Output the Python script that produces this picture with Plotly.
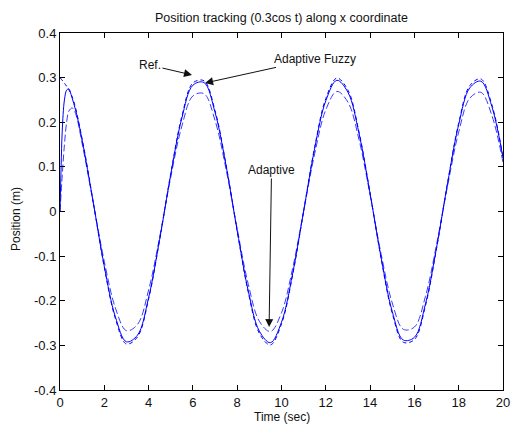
import plotly.graph_objects as go

# Reference signal 0.3cos t
t_ref = [0, 0.5, 1.0, 1.5, 2.0, 2.5, 3.0, 3.5, 4.0, 4.5, 5.0, 5.5, 6.0, 6.5, 7.0, 7.5,
         8.0, 8.5, 9.0, 9.5, 10.0, 10.5, 11.0, 11.5, 12.0, 12.5, 13.0, 13.5, 14.0, 14.5,
         15.0, 15.5, 16.0, 16.5, 17.0, 17.5, 18.0, 18.5, 19.0, 19.5, 20.0]
y_ref = [0.300, 0.263, 0.162, 0.021, -0.125, -0.240, -0.297, -0.281, -0.196, -0.063,
         0.085, 0.213, 0.288, 0.293, 0.226, 0.104, -0.044, -0.181, -0.273, -0.299,
         -0.252, -0.143, 0.001, 0.145, 0.253, 0.299, 0.272, 0.178, 0.041, -0.106,
         -0.228, -0.293, -0.287, -0.211, -0.083, 0.065, 0.198, 0.282, 0.297, 0.239, 0.122]

# Adaptive Fuzzy response
t_fz = [0, 0.05, 0.1, 0.2, 0.3, 0.4, 0.5, 0.75, 1.0, 1.5, 2.0, 2.5, 3.0, 3.5, 4.0, 4.5,
        5.0, 5.5, 6.0, 6.5, 7.0, 7.5, 8.0, 8.5, 9.0, 9.5, 10.0, 10.5, 11.0, 11.5, 12.0,
        12.5, 13.0, 13.5, 14.0, 14.5, 15.0, 15.5, 16.0, 16.5, 17.0, 17.5, 18.0, 18.5,
        19.0, 19.5, 20.0]
y_fz = [0.0, 0.10, 0.18, 0.25, 0.272, 0.275, 0.262, 0.218, 0.160, 0.021, -0.123, -0.236,
        -0.292, -0.277, -0.193, -0.062, 0.083, 0.209, 0.283, 0.289, 0.222, 0.102, -0.043,
        -0.178, -0.268, -0.294, -0.248, -0.140, 0.001, 0.142, 0.248, 0.294, 0.267, 0.175,
        0.040, -0.104, -0.224, -0.288, -0.282, -0.207, -0.081, 0.064, 0.195, 0.277, 0.292,
        0.235, 0.120]

# Adaptive response
t_ad = [0, 0.1, 0.2, 0.3, 0.4, 0.55, 0.7, 1.0, 1.5, 2.0, 2.5, 3.0, 3.5, 4.0, 4.5, 5.0,
        5.5, 6.0, 6.5, 7.0, 7.5, 8.0, 8.5, 9.0, 9.5, 10.0, 10.5, 11.0, 11.5, 12.0, 12.5,
        13.0, 13.5, 14.0, 14.5, 15.0, 15.5, 16.0, 16.5, 17.0, 17.5, 18.0, 18.5, 19.0,
        19.5, 20.0]
y_ad = [0.0, 0.08, 0.15, 0.20, 0.225, 0.232, 0.22, 0.152, 0.020, -0.112, -0.216, -0.267,
        -0.253, -0.176, -0.057, 0.077, 0.191, 0.259, 0.264, 0.204, 0.094, -0.039, -0.163,
        -0.246, -0.269, -0.227, -0.128, 0.001, 0.130, 0.228, 0.269, 0.245, 0.161, 0.037,
        -0.096, -0.205, -0.264, -0.259, -0.190, -0.074, 0.058, 0.178, 0.254, 0.267, 0.215,
        0.110]

x_ticks = [0, 2, 4, 6, 8, 10, 12, 14, 16, 18, 20]
x_ticktext = ["0", "2", "4", "6", "8", "10", "12", "14", "16", "18", "20"]
y_ticks = [-0.4, -0.3, -0.2, -0.1, 0, 0.1, 0.2, 0.3, 0.4]
y_ticktext = ["-0.4", "-0.3", "-0.2", "-0.1", "0", "0.1", "0.2", "0.3", "0.4"]

FONT = "Liberation Sans, Arial, sans-serif"
TXT = "#111111"

fig = go.Figure()
fig.add_trace(go.Scatter(x=t_ad, y=y_ad, mode="lines", name="Adaptive",
                         line=dict(color="#3a3aff", width=1, dash="7px,3px", shape="spline")))
fig.add_trace(go.Scatter(x=t_ref, y=y_ref, mode="lines", name="Ref.",
                         line=dict(color="#0000ff", width=1, dash="4px,3px", shape="spline")))
fig.add_trace(go.Scatter(x=t_fz, y=y_fz, mode="lines", name="Adaptive Fuzzy",
                         line=dict(color="#0000ff", width=1, shape="spline")))

arrow = dict(showarrow=True, arrowhead=2, arrowsize=1.6, arrowwidth=1, arrowcolor=TXT,
             axref="x", ayref="y", xref="x", yref="y",
             font=dict(family=FONT, size=12, color=TXT))
fig.add_annotation(text="Ref.", x=5.96, y=0.306, ax=4.06, ay=0.328, **arrow)
fig.add_annotation(text="Adaptive Fuzzy", x=6.55, y=0.288, ax=11.5, ay=0.342, **arrow)
fig.add_annotation(text="Adaptive", x=9.44, y=-0.259, ax=9.55, ay=0.093, **arrow)

# axis titles placed as paper annotations
fig.add_annotation(text="Time (sec)", xref="paper", yref="paper", x=0.5, y=(390 - 417) / 357,
                   xanchor="center", yanchor="middle", showarrow=False,
                   font=dict(family=FONT, size=12, color=TXT))
fig.add_annotation(text="Position (m)", xref="paper", yref="paper", x=(16 - 60) / 443,
                   y=(390 - 219) / 357, xanchor="center", yanchor="middle", textangle=-90,
                   showarrow=False, font=dict(family=FONT, size=12, color=TXT))

axis_common = dict(showline=True, linecolor="black", linewidth=1, mirror="ticks",
                   ticks="inside", ticklen=5, tickcolor="black", tickwidth=1,
                   showgrid=False, zeroline=False, automargin=False,
                   tickfont=dict(family=FONT, size=13, color=TXT))

fig.update_layout(
    width=511, height=425,
    margin=dict(l=60, r=8, t=33, b=35),
    paper_bgcolor="white", plot_bgcolor="white",
    showlegend=False,
    title=dict(text="Position tracking (0.3cos t) along x coordinate",
               x=(60 + 0.5 * 443) / 511, xanchor="center",
               y=1 - 18 / 425, yref="container", yanchor="middle",
               font=dict(family=FONT, size=12.5, color=TXT)),
    xaxis=dict(range=[0, 20], tickvals=x_ticks, ticktext=x_ticktext, **axis_common),
    yaxis=dict(range=[-0.4, 0.4], tickvals=y_ticks, ticktext=y_ticktext, **axis_common),
)

fig.write_html("out.html", config={"displayModeBar": False},
               post_script="document.body.style.margin='0';document.body.style.padding='0';")
